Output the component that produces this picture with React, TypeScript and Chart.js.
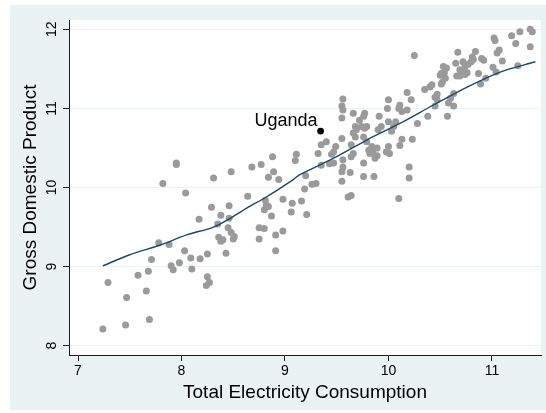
import { useEffect, useRef } from 'react';
import { Chart, registerables } from 'chart.js';

Chart.register(...registerables);

const FONT = '"Liberation Sans", Arial, Helvetica, sans-serif';

const electricity: number[] = [
  7.24, 7.46, 7.69, 7.47, 7.66, 7.29, 7.58, 7.68, 7.71, 7.78, 7.88, 7.90, 7.92, 7.98, 8.03, 8.09, 8.10, 8.18, 8.25, 8.25,
  8.27, 8.24, 8.43, 8.17, 8.29, 8.46, 8.38, 8.46, 8.35, 8.45, 8.48, 8.51, 8.50, 8.36, 8.40, 8.38, 8.04, 8.64, 8.75, 8.80,
  8.75, 8.91, 8.98, 8.91, 8.81, 8.82, 8.80, 8.84, 8.87, 8.98, 9.07, 9.06, 9.16, 9.21, 9.19,
  7.82, 7.95, 7.95, 8.31, 8.48, 8.68, 8.77, 8.88, 8.89, 8.84, 8.94, 9.11, 9.10, 9.20,
  9.26, 9.30, 9.55, 9.61, 9.64, 10.10,
  9.77, 9.79, 9.74, 9.76, 9.77, 9.72, 9.66, 9.68, 9.69, 9.66, 9.68, 9.64, 9.66, 9.64, 9.76, 9.79, 9.81, 9.82, 9.55, 9.49,
  9.47, 9.45, 9.40, 9.35, 9.32, 9.56, 9.56, 9.55, 9.47, 9.43, 9.35, 9.63, 9.76, 9.76, 9.86, 9.98, 10.00, 10.01, 9.89, 9.84,
  9.85, 9.89, 9.87, 9.56, 9.55, 9.56, 9.55, 9.91, 10.00, 9.99, 9.93, 9.90, 10.07, 10.05, 10.03, 10.00, 10.11, 10.10, 10.13, 10.18,
  10.22, 10.11, 10.13, 10.20, 10.20, 10.23, 10.28, 10.38, 10.45, 10.57, 10.63, 10.63, 10.60, 10.58, 10.47, 10.45, 10.47, 10.18, 10.25, 10.35,
  10.40, 10.42, 10.51, 10.52, 10.55, 10.50, 10.51, 10.54, 10.53, 10.56, 10.66, 10.69, 10.65, 10.67, 10.69, 10.74, 10.76, 10.72, 10.74, 10.72,
  10.77, 10.80, 10.82, 10.81, 10.84, 10.87, 10.90, 10.92, 10.89, 10.94, 11.01, 11.04, 11.10, 11.05, 11.07, 11.02, 11.03, 11.19, 11.23, 11.25,
  11.27, 11.37, 11.39, 11.37,
];

const gdp: number[] = [
  8.21, 8.26, 8.33, 8.61, 8.69, 8.80, 8.89, 8.94, 9.09, 9.30, 9.28, 9.01, 8.96, 9.05, 9.20, 9.11, 8.97, 9.10, 9.16, 8.87,
  8.80, 8.76, 9.17, 9.60, 9.75, 9.77, 9.65, 9.61, 9.54, 9.49, 9.43, 9.38, 9.35, 9.37, 9.34, 9.32, 9.93, 9.89, 9.49, 9.48,
  9.35, 9.40, 9.45, 9.20, 9.84, 9.78, 9.72, 9.76, 9.64, 9.85, 9.80, 9.69, 9.83, 9.66, 9.98,
  10.05, 10.31, 10.29, 10.12, 10.20, 10.26, 10.29, 10.39, 10.20, 10.13, 10.10, 10.42, 10.34, 10.15,
  10.04, 10.05, 10.08, 9.88, 9.90, 9.86,
  10.75, 10.77, 10.77, 10.90, 10.94, 10.85, 10.94, 10.77, 10.73, 10.69, 10.64, 10.54, 10.43, 10.39, 10.64, 10.58, 10.47, 10.43, 10.62, 10.52,
  10.45, 10.42, 10.58, 10.54, 10.43, 10.35, 10.26, 10.20, 10.31, 10.30, 10.28, 10.19, 10.31, 10.14, 10.14, 10.45, 10.52, 10.43, 10.50, 10.52,
  10.45, 10.40, 10.37, 11.12, 11.03, 10.98, 10.88, 10.90, 11.11, 11.00, 10.77, 10.73, 10.83, 10.77, 10.71, 10.83, 11.04, 11.00, 10.96, 10.98,
  11.11, 10.53, 10.61, 10.26, 10.12, 10.61, 10.81, 10.90, 11.03, 10.90, 11.03, 11.19, 11.13, 11.07, 11.18, 11.14, 11.11, 11.20, 11.67, 11.24,
  11.27, 11.30, 11.31, 11.33, 11.38, 11.42, 11.44, 11.45, 11.53, 11.51, 11.41, 11.41, 11.57, 11.71, 11.49, 11.43, 11.45, 11.46, 11.53, 11.59,
  11.56, 11.59, 11.62, 11.65, 11.72, 11.44, 11.63, 11.61, 11.31, 11.38, 11.52, 11.46, 11.60, 11.70, 11.74, 11.89, 11.86, 11.92, 11.82, 11.54,
  11.97, 12.00, 11.97, 11.78,
];

const lowessX: number[] = [7.24, 7.5, 7.79, 8.05, 8.31, 8.47, 8.63, 8.82, 9.08, 9.14, 9.47, 9.79, 10.11, 10.43, 10.76, 11.08, 11.42];
const lowessY: number[] = [9.01, 9.15, 9.27, 9.40, 9.50, 9.61, 9.74, 9.88, 10.10, 10.16, 10.37, 10.60, 10.81, 11.04, 11.27, 11.46, 11.59];

const highlightName = 'Uganda';
const highlightX = 9.344;
const highlightY = 10.714;

const xTicks: number[] = [7, 8, 9, 10, 11];
const yTicks: number[] = [8, 9, 10, 11, 12];
const xTitle = 'Total Electricity Consumption';
const yTitle = 'Gross Domestic Product';

const BG = '#eaf2f3';
const AXIS = '#1e1e1e';

const decorPlugin = {
  id: 'decor',
  beforeDraw(chart: any) {
    const { ctx, chartArea, width, height } = chart;
    ctx.save();
    ctx.fillStyle = '#ffffff';
    ctx.fillRect(0, 0, width, height);
    ctx.fillStyle = BG;
    ctx.fillRect(10, 5, width - 10, height - 8);
    ctx.fillStyle = '#ffffff';
    ctx.fillRect(chartArea.left, chartArea.top, chartArea.right - chartArea.left, chartArea.bottom - chartArea.top);
    ctx.restore();
  },
  afterDraw(chart: any) {
    const { ctx, chartArea } = chart;
    const ys = chart.scales.y;
    const xs = chart.scales.x;
    ctx.save();
    ctx.fillStyle = '#000';
    ctx.font = `14px ${FONT}`;
    ctx.textAlign = 'center';
    ctx.textBaseline = 'middle';
    for (const v of yTicks) {
      const py = ys.getPixelForValue(v);
      ctx.save();
      ctx.translate(chartArea.left - 17, py);
      ctx.rotate(-Math.PI / 2);
      ctx.fillText(String(v), 0, 0);
      ctx.restore();
    }
    // y title
    ctx.font = `19px ${FONT}`;
    ctx.save();
    ctx.translate(31, (chartArea.top + chartArea.bottom) / 2);
    ctx.rotate(-Math.PI / 2);
    ctx.fillText(yTitle, 0, 0);
    ctx.restore();
    // x title
    ctx.fillText(xTitle, (chartArea.left + chartArea.right) / 2, 393);
    // highlight label
    ctx.font = `18px ${FONT}`;
    ctx.textAlign = 'right';
    ctx.textBaseline = 'alphabetic';
    ctx.fillText(highlightName, xs.getPixelForValue(highlightX) - 3, ys.getPixelForValue(highlightY) - 5);
    ctx.restore();
  },
};

export default function App() {
  const ref = useRef<HTMLCanvasElement | null>(null);

  useEffect(() => {
    if (!ref.current) return;
    const chart = new Chart(ref.current, {
      type: 'scatter',
      data: {
        datasets: [
          {
            label: 'Countries',
            data: electricity.map((x, i) => ({ x, y: gdp[i] })),
            backgroundColor: '#9a9a9a',
            borderWidth: 0,
            pointRadius: 3.5,
            order: 3,
          },
          {
            label: 'lowess',
            type: 'line',
            data: lowessX.map((x, i) => ({ x, y: lowessY[i] })),
            borderColor: '#1a476f',
            borderWidth: 1.4,
            pointRadius: 0,
            fill: false,
            tension: 0.3,
            order: 2,
          } as any,
          {
            label: highlightName,
            data: [{ x: highlightX, y: highlightY }],
            backgroundColor: '#000000',
            borderWidth: 0,
            pointRadius: 3.4,
            order: 1,
          },
        ],
      },
      options: {
        animation: false,
        responsive: true,
        maintainAspectRatio: false,
        layout: { padding: { top: 20, right: 5, left: 0, bottom: 0 } },
        plugins: { legend: { display: false }, tooltip: { enabled: false } },
        scales: {
          x: {
            type: 'linear',
            min: 6.913,
            max: 11.474,
            afterBuildTicks: (s: any) => {
              s.ticks = xTicks.map((v) => ({ value: v }));
            },
            afterFit: (s: any) => {
              s.height = 58;
            },
            grid: { drawOnChartArea: false, drawTicks: true, tickLength: 6, tickColor: AXIS },
            border: { color: AXIS, width: 1 },
            ticks: { color: '#000', font: { family: FONT, size: 14 }, padding: 2, maxRotation: 0, autoSkip: false },
          },
          y: {
            type: 'linear',
            min: 7.882,
            max: 12.118,
            afterBuildTicks: (s: any) => {
              s.ticks = yTicks.map((v) => ({ value: v }));
            },
            afterFit: (s: any) => {
              s.width = 69;
            },
            grid: { color: BG, lineWidth: 1, drawTicks: true, tickLength: 6, tickColor: AXIS },
            border: { color: AXIS, width: 1 },
            ticks: { display: false },
          },
        },
      },
      plugins: [decorPlugin],
    });
    return () => chart.destroy();
  }, []);

  return (
    <div style={{ position: 'fixed', left: 0, top: 0, width: 546, height: 413 }}>
      <canvas ref={ref} />
    </div>
  );
}
